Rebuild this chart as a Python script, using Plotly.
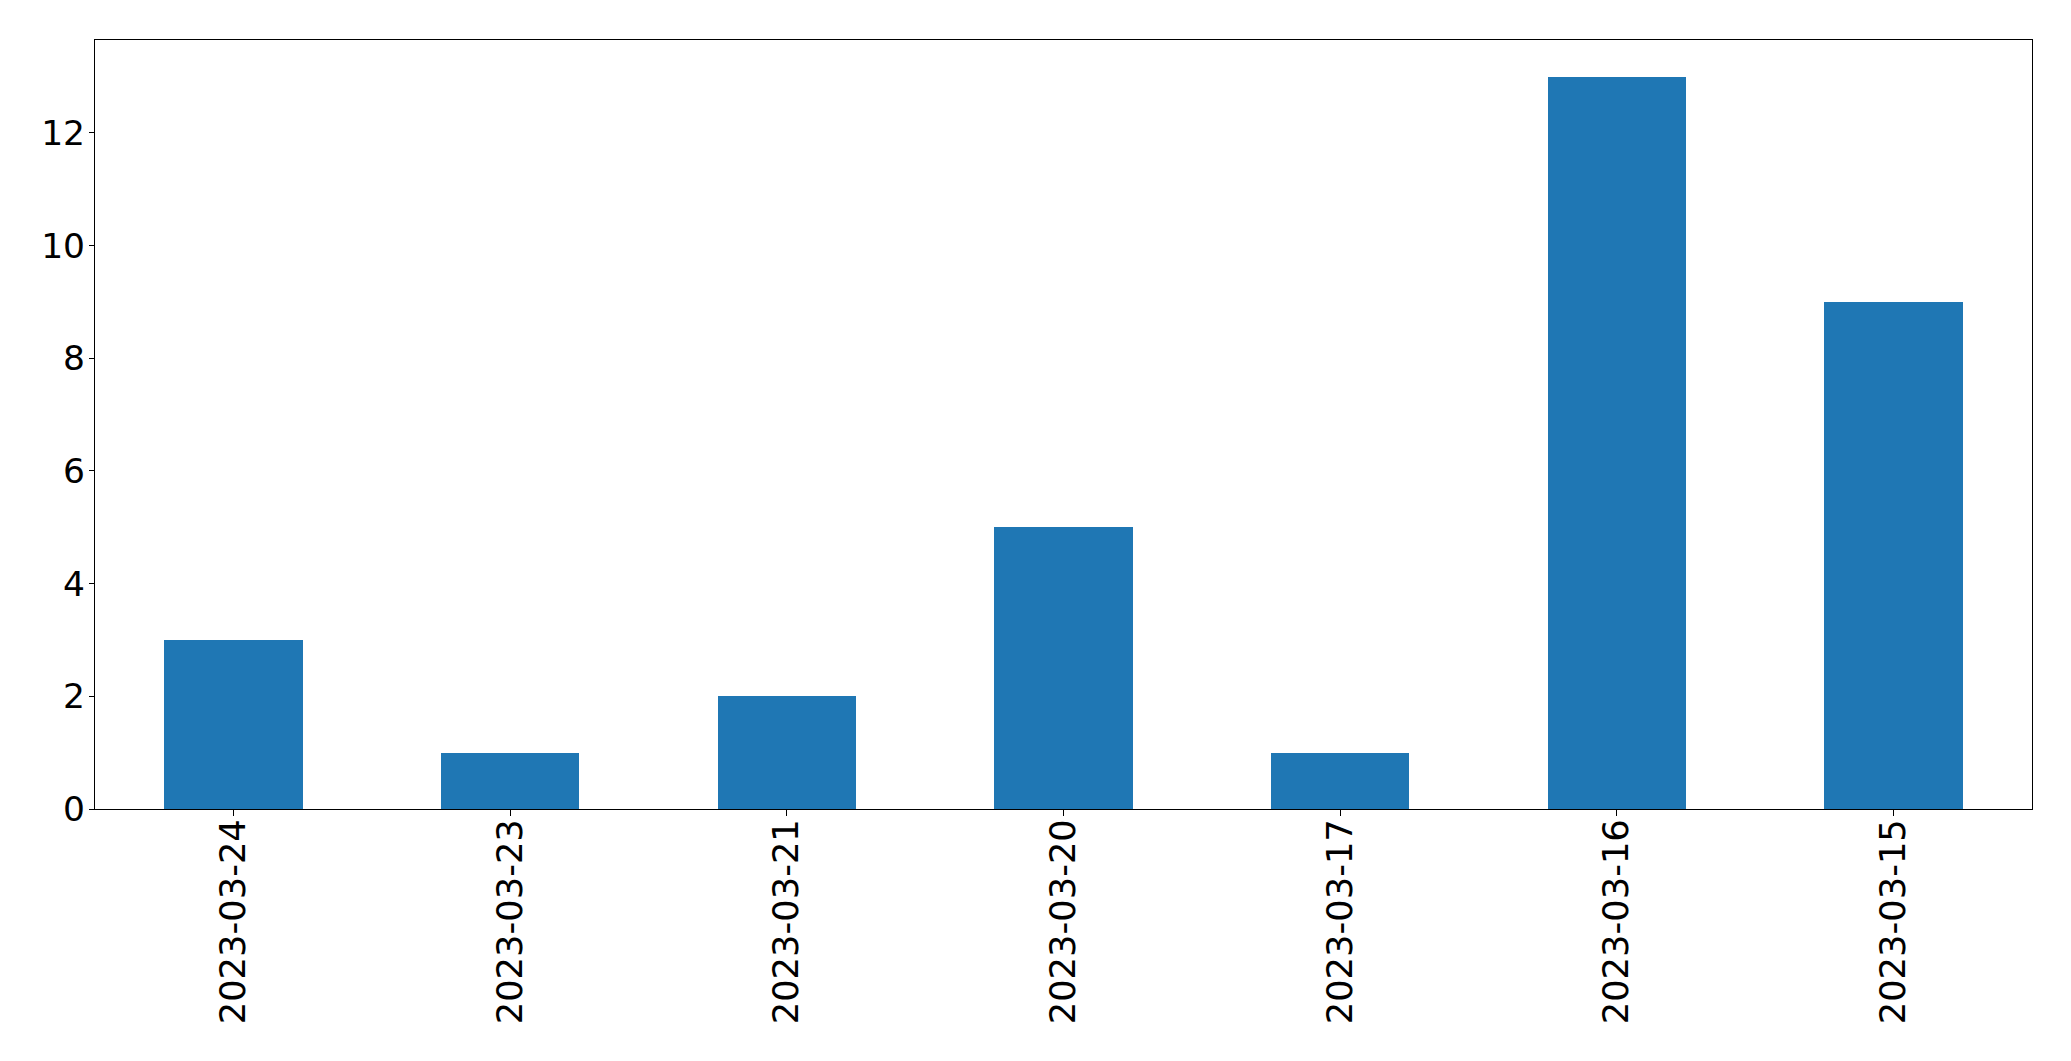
import plotly.graph_objects as go

dates = ["2023-03-24", "2023-03-23", "2023-03-21", "2023-03-20", "2023-03-17", "2023-03-16", "2023-03-15"]
counts = [3, 1, 2, 5, 1, 13, 9]
y_ticks = [0, 2, 4, 6, 8, 10, 12]

fig = go.Figure(go.Bar(x=dates, y=counts, width=0.5, marker=dict(color="#1f77b4", line=dict(width=0))))

xfont = dict(family="DejaVu Sans", size=35.3, color="black")
yfont = dict(family="DejaVu Sans", size=34.5, color="black")
fig.update_layout(
    width=2071, height=1061,
    margin=dict(l=86.5, r=47, t=31.5, b=260),
    paper_bgcolor="white", plot_bgcolor="white",
    showlegend=False,
    bargap=0,
)
fig.update_xaxes(
    type="category", range=[-0.5, 6.5], tickangle=-90,
    showline=True, linecolor="black", linewidth=1.1, mirror=True,
    ticks="outside", ticklen=6, tickwidth=1.1, tickcolor="black",
    ticklabelstandoff=-11,
    showgrid=False, zeroline=False, tickfont=xfont,
)
fig.update_yaxes(
    range=[0, 13.65], tickvals=y_ticks, ticktext=[str(v) for v in y_ticks],
    showline=True, linecolor="black", linewidth=1.1, mirror=True,
    ticks="outside", ticklen=5, tickwidth=1.1, tickcolor="black",
    ticklabelstandoff=-3,
    showgrid=False, zeroline=False, tickfont=yfont,
)
fig.write_html("out.html")
